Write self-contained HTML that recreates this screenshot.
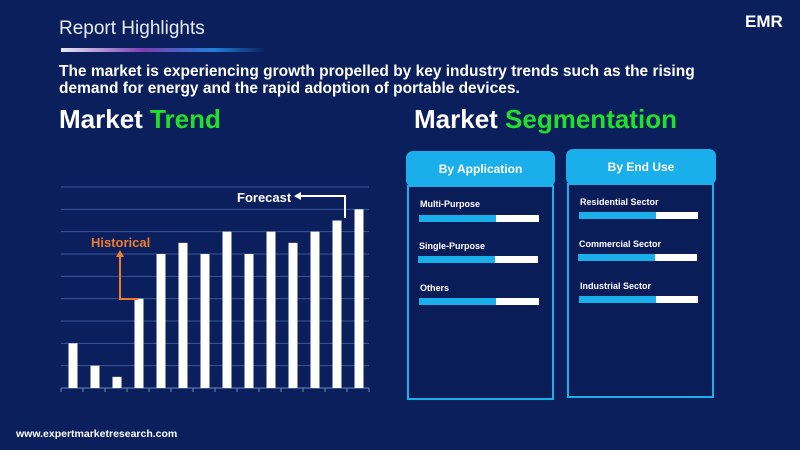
<!DOCTYPE html>
<html><head><meta charset="utf-8"><style>
body{margin:0;width:800px;height:450px;background:#0a1f5c;font-family:"Liberation Sans",sans-serif;overflow:hidden;position:relative;color:#fff}
.a{position:absolute;white-space:nowrap}
.hdr{position:absolute;background:#1aaeea;border-radius:7px;font-weight:bold;font-size:12px;text-align:center;color:#fff}
.box{position:absolute;border:2px solid #1aaeea;background:#0b1d58}
.lbl{position:absolute;font-size:9px;font-weight:bold;color:#fff;white-space:nowrap}
.bar{position:absolute;height:7px;background:#fff}
.bar div{height:100%;background:#1aaeea}
</style></head><body>
<div class="a" style="left:59px;top:18px;font-size:19px;color:#e8ecf6">Report Highlights</div>
<div class="a" style="left:61px;top:48px;width:205px;height:4px;background:linear-gradient(90deg,#e8e8f8,#7b3fb0 40%,#1f7fd8 75%,#0a1f5c)"></div>
<div class="a" style="left:59px;top:63px;font-size:15.5px;font-weight:bold;line-height:17px">The market is experiencing growth propelled by key industry trends such as the rising<br>demand for energy and the rapid adoption of portable devices.</div>
<div class="a" style="left:59px;top:104px;font-size:26px;font-weight:bold">Market <span style="color:#22e02a">Trend</span></div>
<div class="a" style="left:414px;top:104px;font-size:26px;font-weight:bold">Market <span style="color:#22e02a">Segmentation</span></div>
<div class="a" style="left:745px;top:12px;font-size:17px;font-weight:bold">EMR</div>
<div class="a" style="left:16px;top:428px;font-size:10.5px;font-weight:bold">www.expertmarketresearch.com</div>

<svg class="a" style="left:0;top:0" width="400" height="410">
<g id="grid"></g><g id="bars"></g>
<g>
<text x="91" y="247" fill="#f07c2a" font-size="13" font-weight="bold" font-family="Liberation Sans">Historical</text>
<polyline points="138,299 120,299 120,256" fill="none" stroke="#f07c2a" stroke-width="2"/>
<polygon points="116,257 124,257 120,250" fill="#f07c2a"/>
</g>
<g>
<text x="237" y="202" fill="#fff" font-size="13" font-weight="bold" font-family="Liberation Sans">Forecast</text>
<polyline points="345,218 345,196 300,196" fill="none" stroke="#fff" stroke-width="2"/>
<polygon points="301,192 301,200 294,196" fill="#fff"/>
</g>
</svg>

<div class="hdr" style="left:406px;top:151px;width:149px;height:36px;line-height:37px">By Application</div>
<div class="box" style="left:407px;top:185px;width:143px;height:211px"></div>
<div class="lbl" style="left:420px;top:199px">Multi-Purpose</div>
<div class="bar" style="left:419px;top:215px;width:120px"><div style="width:64%"></div></div>
<div class="lbl" style="left:419px;top:241px">Single-Purpose</div>
<div class="bar" style="left:418px;top:256px;width:120px"><div style="width:64%"></div></div>
<div class="lbl" style="left:420px;top:283px">Others</div>
<div class="bar" style="left:419px;top:298px;width:120px"><div style="width:64%"></div></div>

<div class="hdr" style="left:566px;top:149px;width:150px;height:36px;line-height:36px">By End Use</div>
<div class="box" style="left:567px;top:183px;width:143px;height:211px"></div>
<div class="lbl" style="left:580px;top:197px">Residential Sector</div>
<div class="bar" style="left:579px;top:212px;width:119px"><div style="width:65%"></div></div>
<div class="lbl" style="left:579px;top:239px">Commercial Sector</div>
<div class="bar" style="left:578px;top:254px;width:119px"><div style="width:65%"></div></div>
<div class="lbl" style="left:580px;top:281px">Industrial Sector</div>
<div class="bar" style="left:579px;top:296px;width:119px"><div style="width:65%"></div></div>

<script>
const years=["Y1","Y2","Y3","Y4","Y5","Y6","Y7","Y8","Y9","Y10","Y11","Y12","Y13","Y14"];
const values=[2,1,0.5,4,6,6.5,6,7,6,7,6.5,7,7.5,8];
const gridMax=9;
const x0=61,x1=369,yBase=388,yTop=187;
const ns="http://www.w3.org/2000/svg";
const step=(x1-x0)/years.length;
function xs(i){return x0+step*i;}
function ys(v){return yBase-(yBase-yTop)*v/gridMax;}
const g=document.getElementById('grid'),b=document.getElementById('bars');
for(let k=1;k<=gridMax;k++){
 const l=document.createElementNS(ns,'line');
 
 
 l.setAttribute('x1',x0);l.setAttribute('x2',x1);l.setAttribute('y1',ys(k));l.setAttribute('y2',ys(k));
 l.setAttribute('stroke','#3a5799');l.setAttribute('stroke-width','1');g.appendChild(l);
}
const ax=document.createElementNS(ns,'line');


ax.setAttribute('x1',x0);ax.setAttribute('x2',x1);ax.setAttribute('y1',yBase);ax.setAttribute('y2',yBase);
ax.setAttribute('stroke','#6f88c0');g.appendChild(ax);
for(let i=0;i<=years.length;i++){
 const t=document.createElementNS(ns,'line');
 
 
 t.setAttribute('x1',xs(i));t.setAttribute('x2',xs(i));t.setAttribute('y1',yBase);t.setAttribute('y2',yBase+4);
 t.setAttribute('stroke','#6f88c0');g.appendChild(t);
}
values.forEach((v,i)=>{
 const r=document.createElementNS(ns,'rect');
 
 
 const w=9;
 r.setAttribute('x',xs(i)+step/2-w/2+1);r.setAttribute('width',w);
 r.setAttribute('y',ys(v));r.setAttribute('height',yBase-ys(v));
 r.setAttribute('fill','#fff');b.appendChild(r);
});
</script>
</body></html>
